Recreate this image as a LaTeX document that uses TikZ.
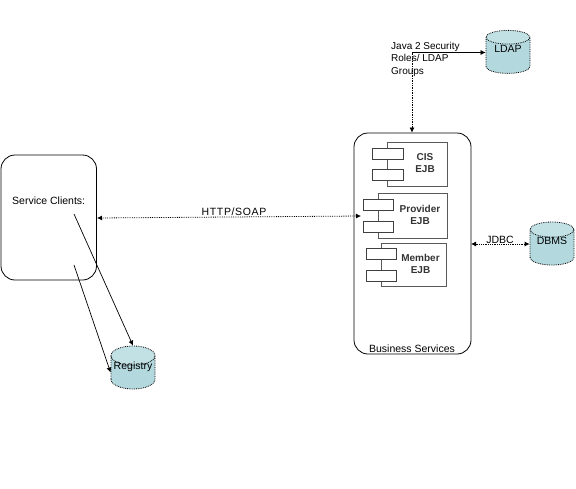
\documentclass[tikz,border=0pt]{standalone}
\usepackage{fontspec}
\setmainfont{Liberation Sans}
\usepackage{tikz}
\usetikzlibrary{positioning,arrows.meta,shapes.geometric}

\newcommand{\storename}[1]{\raisebox{7pt}[7pt][0pt]{#1}}

\begin{document}
\begin{tikzpicture}[x=1pt, y=-1pt, font=\fontsize{10.5}{13}\selectfont,
  container/.style={draw, rectangle, rounded corners=14pt, line width=0.8pt, inner sep=0pt},
  store/.style={draw, densely dotted, line width=0.8pt, shape=cylinder, shape border rotate=90, aspect=0.5,
    minimum width=44pt, minimum height=43pt, inner sep=0pt, cylinder uses custom fill,
    cylinder body fill=storefill, cylinder end fill=storefill!80!white},
  component/.style={draw=black!65, rectangle, line width=1pt, inner sep=0pt},
  tab/.style={draw=black!75, fill=white, rectangle, line width=0.8pt, minimum width=30.5pt, minimum height=11pt, inner sep=0pt},
  ejb/.style={font=\fontsize{10}{12}\selectfont\bfseries, align=center, text=black!80, inner sep=0pt},
  caption/.style={inner sep=0pt},
  solidlink/.style={-{Latex[length=5pt,width=5pt]}, line width=0.7pt},
  dottedlink/.style={{Latex[length=5pt,width=5pt]}-{Latex[length=5pt,width=5pt]}, densely dotted, line width=0.8pt}]
\definecolor{storefill}{HTML}{B3D9DF}
\useasboundingbox (0,0) rectangle (576,488);

% Nodes
\node[container, minimum width=95.5pt, minimum height=125pt] (clients) at (48.75,217.5) {};
\node[container, minimum width=117pt, minimum height=221pt] (services) at (412.5,243.5) {};
\node[store] (ldap) at (508,55.5) {\storename{LDAP}};
\node[store] (dbms) at (552,247.5) {\storename{DBMS}};
\node[store] (registry) at (133,372.5) {\storename{Registry}};

% Components
\node[component, minimum width=60pt, minimum height=43.5pt] (cis) at (417.25,164.5) {};
\node[tab] (cisTop) at (387.75,154) {};
\node[tab, below=9.5pt of cisTop] (cisBottom) {};
\node[ejb] (cisText) at (425,163) {CIS\\EJB};

\node[component, minimum width=69.5pt, minimum height=44.5pt] (provider) at (412.75,215.75) {};
\node[tab] (providerTop) at (378.5,205) {};
\node[tab, below=10.5pt of providerTop] (providerBottom) {};
\node[ejb] (providerText) at (420,215) {Provider\\EJB};

\node[component, minimum width=65pt, minimum height=43pt] (member) at (413.5,264.5) {};
\node[tab] (memberTop) at (381.25,254) {};
\node[tab, below=10.5pt of memberTop] (memberBottom) {};
\node[ejb] (memberText) at (420.5,264) {Member\\EJB};

% Labels
\node[caption, anchor=north west, align=left, font=\fontsize{10}{12.5}\selectfont] (roles) at (391,42) {Java 2 Security\\Roles/ LDAP\\Groups};
\node[caption, font=\fontsize{10.5}{13}\selectfont\addfontfeatures{LetterSpace=6}] (http) at (234,212) {HTTP/SOAP};
\node[caption] (jdbc) at (500,240) {JDBC};
\node[caption, anchor=west] (clientsText) at (12,201) {Service Clients:};
\node[caption] (servicesText) at (412,349) {Business Services};

% Arrows
\coordinate (rolesCorner) at (412,52.5);
\coordinate (httpLeft) at (97,218);
\coordinate (httpRight) at (361,216);
\coordinate (jdbcLeft) at (471,244);
\coordinate (lookupStart) at (74,214);
\coordinate (publishStart) at (74,265);

\draw[solidlink] (rolesCorner) -- (ldap.west |- rolesCorner);
\draw[solidlink, densely dotted] (rolesCorner) -- (rolesCorner |- services.north);
\draw[dottedlink] (httpLeft) -- (httpRight);
\draw[dottedlink] (jdbcLeft) -- (dbms.west |- jdbcLeft);
\draw[solidlink] (lookupStart) -- (registry.north);
\draw[solidlink] (publishStart) -- (registry.west);

\end{tikzpicture}
\end{document}
